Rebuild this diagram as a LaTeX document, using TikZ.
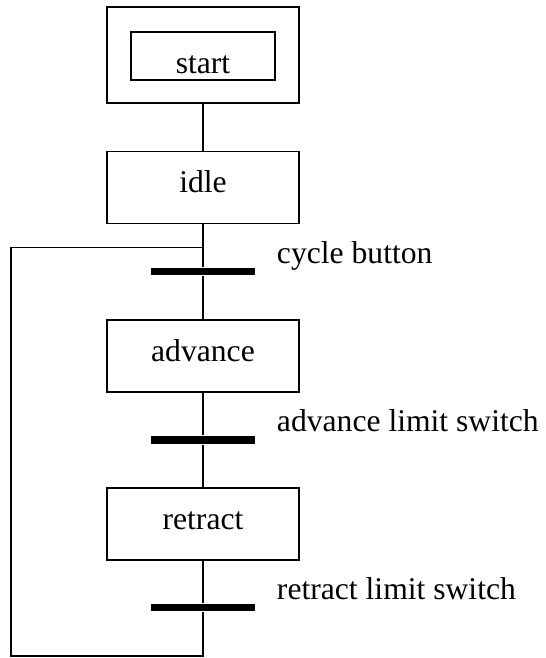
\documentclass[tikz,border=0pt]{standalone}
\usepackage{fontspec}
\setmainfont{Liberation Serif}
\usepackage{tikz}

\begin{document}
\begin{tikzpicture}[font=\fontsize{18}{22}\selectfont,line width=1.1pt,
  stepbox/.style={draw,minimum width=3.84cm,minimum height=1.44cm,inner sep=0pt,
    text height=0.33cm,text depth=0.11cm},
  bar/.style={fill=black,minimum width=2.08cm,minimum height=0.15cm,inner sep=0pt}]
\useasboundingbox (0,0) rectangle (10.9,13.16);
\node[draw,minimum width=3.84cm,minimum height=1.92cm] (init) at (4.06,12.06) {};
\node[draw,minimum width=2.89cm,minimum height=0.95cm,inner sep=0pt,
  text height=0.69cm,text depth=0cm] (start) at (4.06,12.04) {start};
\node[stepbox] (idle) at (4.06,9.41) {idle};
\node[bar] (t1) at (4.06,7.73) {};
\node[anchor=base west,inner sep=0pt] (l1) at (5.52,7.88) {cycle button};
\node[stepbox] (advance) at (4.06,6.04) {advance};
\node[bar] (t2) at (4.06,4.36) {};
\node[anchor=base west,inner sep=0pt] (l2) at (5.52,4.53) {advance limit switch};
\node[stepbox] (retract) at (4.06,2.68) {retract};
\node[bar] (t3) at (4.06,1.01) {};
\node[anchor=base west,inner sep=0pt] (l3) at (5.52,1.17) {retract limit switch};
\coordinate (loopbot) at (4.06,0.04);
\coordinate (loopjoin) at (4.06,8.21);
\draw (init) -- (idle);
\draw (idle) -- (t1) -- (advance);
\draw (advance) -- (t2) -- (retract);
\draw (retract) -- (t3) -- (loopbot) -| (0.22,8.21) -- (loopjoin);
\end{tikzpicture}
\end{document}
